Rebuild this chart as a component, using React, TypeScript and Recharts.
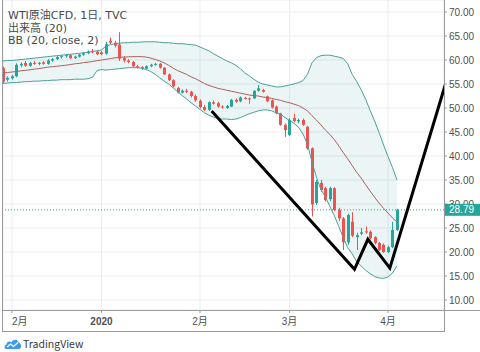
import React from 'react';
import { ComposedChart, XAxis, YAxis, CartesianGrid, Area, Line, Bar, ReferenceLine } from 'recharts';

// Daily candles, oldest first (position k on the time axis)
const opens = [58.3, 55.9, 56.2, 56.6, 58.9, 59.4, 58.8, 59.4, 59.2, 59.5, 59.2, 59.9, 60.2, 60.6, 60.8, 61.0, 60.4, 60.7, 61.1, 61.4, 61.9, 61.7, 61.6, 61.3, 64.0, 63.6, 63.2, 60.4, 59.9, 59.6, 58.7, 58.5, 58.2, 58.7, 59.0, 59.2, 58.4, 57.0, 55.8, 54.2, 53.2, 53.6, 53.4, 52.5, 51.5, 50.2, 49.6, 51.2, 51.0, 50.3, 50.0, 50.3, 51.7, 51.4, 52.1, 52.0, 52.0, 53.6, 53.75, 52.4, 51.6, 50.3, 48.9, 46.5, 44.4, 47.9, 47.2, 47.5, 46.1, 41.6, 30.2, 34.4, 33.3, 31.0, 33.3, 28.75, 27.0, 22.0, 26.3, 23.1, 23.8, 24.3, 24.2, 23.1, 21.9, 21.5, 20.0, 21.0, 24.6];
const highs = [58.6, 56.6, 56.9, 59.3, 59.5, 59.8, 59.6, 59.8, 59.6, 59.8, 60.2, 60.4, 60.8, 61.0, 61.2, 61.2, 60.9, 61.3, 61.6, 62.0, 62.3, 62.0, 61.9, 63.8, 64.7, 64.0, 65.8, 60.8, 60.2, 59.8, 59.0, 58.7, 58.9, 59.2, 59.4, 59.4, 58.5, 57.2, 56.0, 54.4, 53.9, 54.0, 53.6, 52.8, 51.8, 50.6, 51.4, 51.6, 51.3, 50.6, 50.6, 51.9, 52.0, 52.4, 52.3, 52.2, 53.7, 54.8, 54.0, 52.6, 51.8, 50.5, 49.0, 46.8, 47.9, 48.8, 47.8, 47.8, 46.3, 41.8, 35.0, 35.0, 33.6, 33.6, 33.5, 29.2, 27.3, 28.0, 28.3, 24.0, 25.0, 25.3, 24.5, 23.3, 22.1, 21.8, 21.3, 26.3, 29.0];
const lows = [55.2, 55.5, 55.9, 56.4, 58.5, 58.6, 58.6, 59.0, 58.9, 59.0, 59.0, 59.6, 60.0, 60.3, 60.5, 60.2, 60.2, 60.5, 60.9, 61.2, 61.4, 61.0, 61.0, 61.1, 63.3, 62.6, 59.8, 59.5, 59.3, 58.5, 58.2, 57.9, 58.0, 58.5, 58.8, 58.2, 56.9, 55.6, 54.3, 53.0, 53.0, 53.1, 52.2, 51.3, 49.9, 49.4, 49.4, 50.7, 50.1, 49.9, 49.8, 50.2, 51.1, 51.2, 51.8, 50.9, 51.9, 53.4, 53.2, 51.2, 49.9, 48.7, 46.3, 44.0, 44.2, 47.0, 46.8, 46.3, 41.3, 27.4, 29.8, 32.5, 30.5, 30.6, 28.5, 26.5, 20.4, 21.5, 23.1, 20.4, 23.5, 23.8, 22.6, 21.6, 20.2, 19.8, 19.8, 20.8, 24.4];
const closes = [55.5, 56.3, 56.6, 59.0, 59.2, 58.8, 59.4, 59.2, 59.4, 59.2, 59.9, 60.2, 60.6, 60.8, 61.0, 60.4, 60.7, 61.1, 61.4, 61.8, 61.6, 61.2, 61.2, 63.3, 63.6, 63.0, 60.3, 59.9, 59.6, 58.7, 58.5, 58.2, 58.7, 59.0, 59.2, 58.4, 57.0, 55.8, 54.5, 53.2, 53.6, 53.4, 52.5, 51.6, 50.2, 49.6, 51.2, 50.9, 50.3, 50.2, 50.4, 51.7, 51.3, 52.2, 52.0, 51.8, 53.6, 54.1, 53.4, 51.4, 50.1, 48.9, 46.5, 45.4, 47.5, 47.3, 47.5, 46.5, 41.6, 29.9, 34.6, 32.9, 30.8, 33.3, 28.75, 27.0, 22.0, 27.7, 23.4, 23.5, 24.1, 24.2, 22.9, 21.9, 20.4, 20.0, 21.0, 24.6, 28.79];

// Bollinger Bands (20, close, 2)
const bbUpper = [59.8, 59.9, 59.9, 60.0, 60.1, 60.2, 60.3, 60.4, 60.5, 60.6, 60.7, 60.8, 60.9, 61.0, 61.1, 61.2, 61.3, 61.4, 61.5, 61.6, 61.8, 61.9, 62.1, 62.9, 63.2, 63.4, 63.5, 63.6, 63.6, 63.7, 63.7, 63.75, 63.8, 63.8, 63.8, 63.7, 63.6, 63.6, 63.5, 63.4, 63.4, 63.3, 63.2, 63.1, 62.7, 62.3, 61.9, 61.3, 60.8, 60.3, 59.8, 59.4, 58.9, 58.2, 57.3, 56.7, 56.0, 55.4, 55.0, 54.8, 54.6, 54.4, 54.4, 54.6, 54.8, 55.0, 55.3, 55.7, 57.0, 59.4, 60.5, 60.9, 61.0, 61.0, 60.8, 60.6, 60.3, 59.2, 57.0, 55.5, 53.8, 51.8, 49.5, 47.3, 44.9, 42.3, 39.9, 37.6, 35.0];
const bbMid = [57.3, 57.4, 57.5, 57.6, 57.75, 57.85, 57.95, 58.1, 58.2, 58.35, 58.5, 58.6, 58.7, 58.8, 58.9, 59.05, 59.2, 59.3, 59.45, 59.55, 59.7, 59.85, 60.0, 60.15, 60.3, 60.45, 60.55, 60.6, 60.65, 60.7, 60.7, 60.7, 60.6, 60.4, 60.1, 59.8, 59.4, 58.9, 58.3, 57.8, 57.4, 57.0, 56.5, 56.1, 55.6, 55.1, 54.7, 54.4, 54.1, 53.9, 53.7, 53.5, 53.3, 53.1, 52.9, 52.7, 52.6, 52.5, 52.3, 52.2, 52.0, 51.8, 51.6, 51.3, 51.1, 50.8, 50.5, 50.0, 49.4, 48.4, 47.5, 46.5, 45.4, 44.5, 43.4, 42.1, 40.7, 39.4, 38.0, 36.6, 35.4, 34.0, 32.7, 31.4, 30.2, 29.1, 28.1, 27.1, 26.2];
const bbLower = [55.1, 55.2, 55.3, 55.3, 55.4, 55.5, 55.5, 55.6, 55.6, 55.7, 55.7, 55.8, 55.8, 55.9, 55.9, 55.9, 56.0, 56.0, 56.0, 56.1, 56.4, 57.8, 58.0, 57.9, 58.0, 58.1, 58.2, 58.3, 58.4, 58.4, 58.4, 58.3, 58.0, 57.6, 57.0, 56.3, 55.6, 55.0, 54.2, 53.4, 52.6, 51.9, 51.1, 50.4, 49.7, 49.0, 48.5, 48.1, 47.8, 47.7, 47.7, 47.6, 47.7, 48.0, 48.4, 48.8, 49.1, 49.4, 49.6, 49.6, 49.4, 49.0, 48.7, 48.0, 47.4, 46.8, 46.0, 44.6, 42.5, 38.8, 35.6, 33.0, 31.5, 29.5, 27.6, 25.3, 23.0, 20.9, 19.6, 18.0, 17.1, 16.2, 15.5, 14.9, 14.6, 14.5, 14.8, 15.6, 17.1];

// Time axis labels (positions of month starts)
const monthTickIdx = [2, 22, 44, 64, 86];
const monthTickLabels = ['2月', '2020', '2月', '3月', '4月'];
const priceTicks = [10, 15, 20, 25, 30, 35, 40, 45, 50, 55, 60, 65, 70];
const lastPrice = 28.79;

// Hand-drawn "W" trend line
const trendIdx = [46.6, 78.5, 81.5, 86.4, 99.1];
const trendVal = [49.4, 16.4, 22.65, 16.65, 55.8];

const rows = opens.map((o, k) => ({
  k,
  o,
  h: highs[k],
  l: lows[k],
  c: closes[k],
  up: bbUpper[k],
  mid: bbMid[k],
  lo: bbLower[k],
}));
const trend = trendIdx.map((k, j) => ({ k, v: trendVal[j] }));

const UP = '#26a69a';
const DOWN = '#ef5350';
const AXIS = '#9a9a9a';
const TXT = '#4f4f4f';
const PRICE_W = 35;
const TAG_W = 1;
const Y_DOMAIN: [number, number] = [7.92, 72.5];

const Candle = (props: any) => {
  const { x, y, width, height, payload } = props;
  if (x == null || y == null || !payload) return null;
  const { o, h, l, c } = payload;
  const top = Math.min(y, y + height);
  const bot = Math.max(y, y + height);
  const span = h - l || 1;
  const py = (v: number) => top + ((h - v) / span) * (bot - top);
  const cx = Math.round(x + width / 2) + 0.5;
  const color = c >= o ? UP : DOWN;
  const bTop = py(Math.max(o, c));
  const bBot = py(Math.min(o, c));
  return (
    <g>
      <line x1={cx} x2={cx} y1={top} y2={bot} stroke={color} strokeWidth={1} />
      <rect x={cx - 1.5} y={bTop} width={3} height={Math.max(1, bBot - bTop)} fill={color} />
    </g>
  );
};

const XTick = (props: any) => {
  const { x, y, payload } = props;
  const j = monthTickIdx.indexOf(payload.value);
  const label = j >= 0 ? monthTickLabels[j] : '';
  const bold = label === '2020';
  return (
    <text
      x={x}
      y={y + 10}
      textAnchor={j === 0 ? 'start' : 'middle'}
      fontSize={10}
      fontWeight={bold ? 700 : 400}
      fill={TXT}
      fontFamily="'Liberation Sans', 'Noto Sans CJK JP', sans-serif"
    >
      {label}
    </text>
  );
};

const YTick = (props: any) => {
  const { x, y, payload } = props;
  return (
    <text x={x} y={y + 3.5} textAnchor="start" fontSize={10} fill={TXT} fontFamily="'Liberation Sans', sans-serif">
      {Number(payload.value).toFixed(2)}
    </text>
  );
};

// Drawn by a thin second price axis (declared after the main one) so it sits over the price labels
const TagTick = (props: any) => {
  const { x, y, payload } = props;
  const left = x - PRICE_W;
  return (
    <g>
      <rect x={left} y={y - 6} width={PRICE_W + TAG_W} height={12} fill={UP} />
      <text x={left + 5} y={y + 3.6} fill="#ffffff" fontSize={10} fontFamily="'Liberation Sans', sans-serif">
        {Number(payload.value).toFixed(2)}
      </text>
    </g>
  );
};

const line = (style: React.CSSProperties) => (
  <div style={{ position: 'absolute', background: AXIS, ...style }} />
);

export default function App() {
  return (
    <div style={{ position: 'absolute', left: 0, top: 0, width: 480, height: 352, background: '#fff', overflow: 'hidden' }}>
      <ComposedChart width={480} height={352} data={rows} margin={{ top: 0, right: 0, left: 3, bottom: 21 }}>
        <CartesianGrid stroke="#e9edf1" strokeWidth={1} />
        <XAxis
          dataKey="k"
          type="number"
          domain={[0, 98.5]}
          allowDataOverflow
          ticks={monthTickIdx}
          interval={0}
          height={21}
          axisLine={false}
          tickSize={3}
          tickLine={{ stroke: AXIS }}
          tick={<XTick />}
        />
        <YAxis
          orientation="right"
          type="number"
          domain={Y_DOMAIN}
          allowDataOverflow
          ticks={priceTicks}
          interval={0}
          width={PRICE_W}
          axisLine={false}
          tickSize={3}
          tickLine={{ stroke: AXIS }}
          tick={<YTick />}
        />
        <YAxis
          yAxisId="tag"
          orientation="right"
          type="number"
          domain={Y_DOMAIN}
          allowDataOverflow
          ticks={[lastPrice]}
          interval={0}
          width={TAG_W}
          axisLine={false}
          tickLine={false}
          tickSize={0}
          tickMargin={0}
          tick={<TagTick />}
        />
        <Area
          dataKey={(d: any) => [d.lo, d.up]}
          stroke="none"
          fill="#138484"
          fillOpacity={0.08}
          isAnimationActive={false}
        />
        <Line dataKey="up" stroke="#4a9f9b" strokeWidth={1} dot={false} activeDot={false} isAnimationActive={false} />
        <Line dataKey="lo" stroke="#4a9f9b" strokeWidth={1} dot={false} activeDot={false} isAnimationActive={false} />
        <Line dataKey="mid" stroke="#a8615c" strokeWidth={1} dot={false} activeDot={false} isAnimationActive={false} />
        <ReferenceLine yAxisId="tag" y={lastPrice} stroke={UP} strokeDasharray="1 2" />
        <Bar
          dataKey={(d: any) => [d.l, d.h]}
          barSize={3}
          shape={(p: any) => <Candle {...p} />}
          isAnimationActive={false}
        />
        <Line
          data={trend}
          dataKey="v"
          stroke="#000000"
          strokeWidth={3}
          strokeLinejoin="miter"
          dot={false}
          activeDot={false}
          isAnimationActive={false}
        />
      </ComposedChart>

      {line({ left: 2, top: 0, width: 1, height: 332 })}
      {line({ left: 444, top: 0, width: 1, height: 332 })}
      {line({ left: 2, top: 310, width: 478, height: 1 })}
      {line({ left: 2, top: 331, width: 443, height: 1 })}

      <div
        style={{
          position: 'absolute',
          left: 8,
          top: 10,
          fontFamily: "'DejaVu Sans', 'Noto Sans CJK JP', sans-serif",
          fontSize: 11,
          lineHeight: '12.6px',
          color: '#4a4a4a',
          whiteSpace: 'nowrap',
        }}
      >
        <div>WTI原油CFD, 1日, TVC</div>
        <div>出来高 (20)</div>
        <div>BB (20, close, 2)</div>
      </div>

      <div style={{ position: 'absolute', left: 4, top: 337, display: 'flex', alignItems: 'center' }}>
        <svg width={18} height={13} viewBox="0 0 18 13">
          <path d="M2 12 C0 12 0 8 2.5 7.5 C2.5 4.5 6 3.5 7.5 5.5 C8.5 2 14 1.5 14.5 5.5 C17.5 5.5 18 12 15 12 Z" fill="#3d9be9" />
          <path d="M3 10 L6.5 7 L9.5 9.5 L14 5.5" stroke="#ffffff" strokeWidth={1.3} fill="none" />
        </svg>
        <span
          style={{
            marginLeft: 1,
            fontFamily: "'Noto Sans CJK JP', sans-serif",
            fontSize: 10.5,
            color: '#3a3a3a',
            lineHeight: '13px',
          }}
        >
          TradingView
        </span>
      </div>
    </div>
  );
}
